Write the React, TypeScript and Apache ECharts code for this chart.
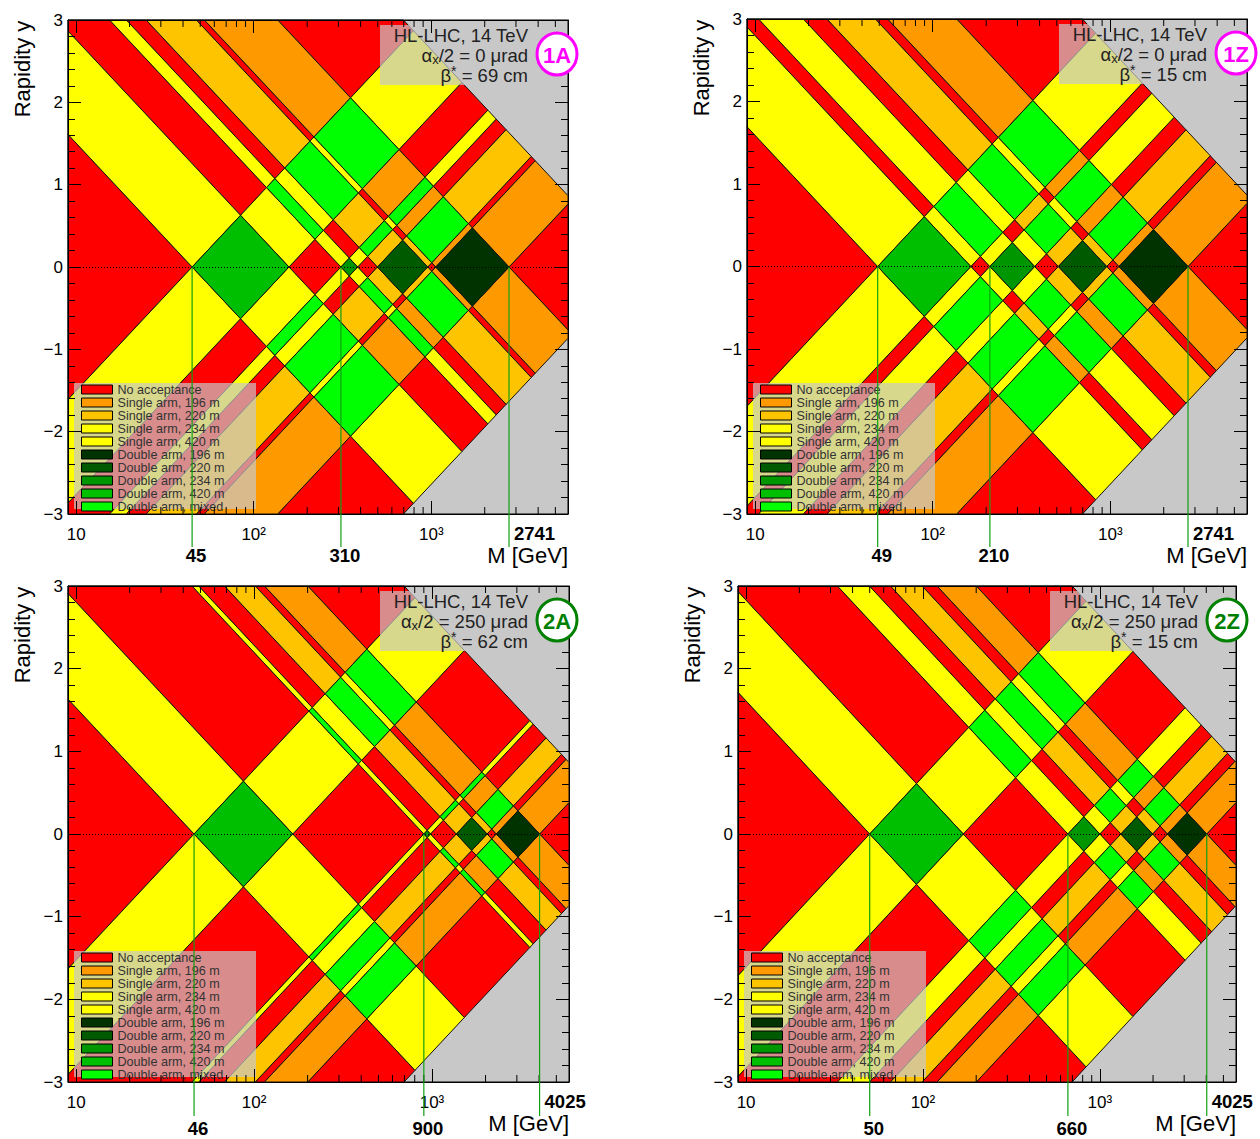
import React, { useEffect, useRef } from 'react';
import * as echarts from 'echarts';

// ---------------- data ----------------
const SQRT_S_GEV = 14000;
// acceptance bands along xi (same sequence for both arms), from low to high xi
const BAND_STATIONS = ['none', '420', 'none', '234', 'none', '220', 'none', '196', 'none'];
// band edges expressed as M (GeV) at y = 0, i.e. xi * sqrt(s)
const BAND_EDGES_1A = [45, 158, 310, 385, 498, 955, 1060, 2741];
const BAND_EDGES_1Z = [49, 164, 210, 375, 510, 955, 1120, 2741];
const BAND_EDGES_2A = [46, 165, 900, 980, 1370, 2040, 2300, 4025];
const BAND_EDGES_2Z = [50, 169, 660, 1000, 1316, 1987, 2415, 4025];
const MARKERS_1A = [45, 310, 2741];
const MARKERS_1Z = [49, 210, 2741];
const MARKERS_2A = [46, 900, 4025];
const MARKERS_2Z = [50, 660, 4025];
const PANEL_TAGS = ['1A', '1Z', '2A', '2Z'];
const HALF_CROSSING_URAD = [0, 0, 250, 250];
const BETA_STAR_CM = [69, 15, 62, 15];
const CATEGORY_NAMES = [
  'No acceptance',
  'Single arm, 196 m',
  'Single arm, 220 m',
  'Single arm, 234 m',
  'Single arm, 420 m',
  'Double arm, 196 m',
  'Double arm, 220 m',
  'Double arm, 234 m',
  'Double arm, 420 m',
  'Double arm, mixed',
];
const CATEGORY_COLORS = [
  '#ff0000', '#ff9900', '#ffc400', '#ffff00', '#ffff00',
  '#003300', '#005a00', '#009600', '#00bf00', '#00ff00',
];
const X_MAJOR_GEV = [10, 100, 1000];
const X_MINOR_GEV = [20, 30, 40, 50, 60, 70, 80, 90, 200, 300, 400, 500, 600, 700, 800, 900, 2000, 3000, 4000, 5000];
const Y_TICK_LABELS = ['\u22123', '\u22122', '\u22121', '0', '1', '2', '3'];
const M_MIN_GEV = 9.0;
const M_MAX_GEV = 5890;
const Y_MIN = -3;
const Y_MAX = 3;

// ---------------- layout ----------------
const LAYOUT = [
  { left: 68, top: 20, width: 500, height: 494, tagColor: '#ff00ff', lowDy: 41, lineDy: 33 },
  { left: 747, top: 19, width: 500, height: 495, tagColor: '#ff00ff', lowDy: 41, lineDy: 33 },
  { left: 68, top: 586, width: 501, height: 496, tagColor: '#008000', lowDy: 46, lineDy: 34 },
  { left: 738, top: 586, width: 498, height: 496, tagColor: '#008000', lowDy: 46, lineDy: 34 },
];
const FONT = '"Liberation Sans", Arial, Helvetica, sans-serif';
const PANEL_EDGES = [BAND_EDGES_1A, BAND_EDGES_1Z, BAND_EDGES_2A, BAND_EDGES_2Z];
const PANEL_MARKERS = [MARKERS_1A, MARKERS_1Z, MARKERS_2A, MARKERS_2Z];

const X_MIN = Math.log10(M_MIN_GEV);
const X_MAX = Math.log10(M_MAX_GEV);
const SINGLE_INDEX: Record<string, number> = { '196': 1, '220': 2, '234': 3, '420': 4 };
const DOUBLE_INDEX: Record<string, number> = { '196': 5, '220': 6, '234': 7, '420': 8 };

function categoryOf(s1: string, s2: string): number {
  if (s1 === 'none' && s2 === 'none') return 0;
  if (s1 === 'none') return SINGLE_INDEX[s2];
  if (s2 === 'none') return SINGLE_INDEX[s1];
  if (s1 === s2) return DOUBLE_INDEX[s1];
  return 9;
}

function buildCells(edges: number[]) {
  const logs = edges.map((e) => Math.log10(e));
  const lo = [-3, ...logs];
  const hi = [...logs, Math.log10(SQRT_S_GEV)];
  const byCat: number[][][] = CATEGORY_NAMES.map(() => []);
  for (let i = 0; i < BAND_STATIONS.length; i++) {
    for (let j = 0; j < BAND_STATIONS.length; j++) {
      const c = categoryOf(BAND_STATIONS[i], BAND_STATIONS[j]);
      byCat[c].push([lo[i], hi[i], lo[j], hi[j]]);
    }
  }
  return byCat;
}

type P = number[];
function clipPolygon(pts: P[]): P[] {
  const planes: [(p: P) => boolean, (a: P, b: P) => P][] = [
    [(p) => p[0] >= X_MIN, (a, b) => { const t = (X_MIN - a[0]) / (b[0] - a[0]); return [X_MIN, a[1] + t * (b[1] - a[1])]; }],
    [(p) => p[0] <= X_MAX, (a, b) => { const t = (X_MAX - a[0]) / (b[0] - a[0]); return [X_MAX, a[1] + t * (b[1] - a[1])]; }],
    [(p) => p[1] >= Y_MIN, (a, b) => { const t = (Y_MIN - a[1]) / (b[1] - a[1]); return [a[0] + t * (b[0] - a[0]), Y_MIN]; }],
    [(p) => p[1] <= Y_MAX, (a, b) => { const t = (Y_MAX - a[1]) / (b[1] - a[1]); return [a[0] + t * (b[0] - a[0]), Y_MAX]; }],
  ];
  let out = pts;
  for (const [inside, inter] of planes) {
    const input = out;
    out = [];
    if (!input.length) break;
    for (let k = 0; k < input.length; k++) {
      const cur = input[k];
      const prev = input[(k + input.length - 1) % input.length];
      const ci = inside(cur);
      const pi = inside(prev);
      if (ci) {
        if (!pi) out.push(inter(prev, cur));
        out.push(cur);
      } else if (pi) {
        out.push(inter(prev, cur));
      }
    }
  }
  return out;
}

function buildOption() {
  const grid: any[] = [];
  const xAxis: any[] = [];
  const yAxis: any[] = [];
  const series: any[] = [];
  const legend: any[] = [];
  const graphic: any[] = [];

  LAYOUT.forEach((L, p) => {
    grid.push({
      left: L.left, top: L.top, width: L.width, height: L.height,
      show: true, backgroundColor: '#c8c8c8', borderColor: '#000', borderWidth: 1,
    });
    const xBase = {
      gridIndex: p, type: 'value', min: X_MIN, max: X_MAX, z: 5,
      splitLine: { show: false },
      axisLine: { show: true, onZero: false, lineStyle: { color: '#000', width: 1 } },
      axisTick: { show: true, inside: true, length: 13, customValues: X_MAJOR_GEV.map((v) => Math.log10(v)), lineStyle: { color: '#000' } },
    };
    xAxis.push({
      ...xBase, position: 'bottom',
      axisLabel: {
        show: true, customValues: X_MAJOR_GEV.map((v) => Math.log10(v)), margin: 12,
        fontSize: 17, color: '#000', fontFamily: FONT,
        formatter: (v: number) => {
          const k = Math.round(v);
          return k === 1 ? '10' : k === 2 ? '10\u00b2' : '10\u00b3';
        },
      },
    });
    xAxis.push({ ...xBase, position: 'top', axisLabel: { show: false } });
    const yBase = {
      gridIndex: p, type: 'value', min: Y_MIN, max: Y_MAX, interval: 1, z: 5,
      splitLine: { show: false },
      axisLine: { show: true, onZero: false, lineStyle: { color: '#000', width: 1 } },
      axisTick: { show: true, inside: true, length: 13, lineStyle: { color: '#000' } },
      minorTick: { show: true, splitNumber: 5, length: 7, lineStyle: { color: '#000' } },
    };
    yAxis.push({
      ...yBase, position: 'left',
      axisLabel: {
        show: true, margin: 5, fontSize: 17, color: '#000', fontFamily: FONT,
        formatter: (v: number) => Y_TICK_LABELS[Math.round(v) + 3],
      },
    });
    yAxis.push({ ...yBase, position: 'right', axisLabel: { show: false } });

    const cells = buildCells(PANEL_EDGES[p]);
    cells.forEach((data, c) => {
      const color = CATEGORY_COLORS[c];
      series.push({
        name: CATEGORY_NAMES[c], type: 'custom', xAxisIndex: 2 * p, yAxisIndex: 2 * p,
        silent: true, z: 2, itemStyle: { color },
        data,
        renderItem: (_params: any, api: any) => {
          const a0 = api.value(0), a1 = api.value(1), b0 = api.value(2), b1 = api.value(3);
          const corners = [[a0, b0], [a1, b0], [a1, b1], [a0, b1]].map(([a, b]) => [(a + b) / 2, ((a - b) * Math.LN10) / 2]);
          const clipped = clipPolygon(corners);
          if (clipped.length < 3) return { type: 'group', children: [] };
          const points = clipped.map((pt) => api.coord(pt));
          return { type: 'polygon', shape: { points }, style: { fill: color, stroke: '#111', lineWidth: 1 } };
        },
      });
    });

    // minor x ticks (bottom and top) and dotted y = 0 line
    series.push({
      name: 'ticks' + p, type: 'custom', xAxisIndex: 2 * p, yAxisIndex: 2 * p, silent: true, z: 5,
      data: X_MINOR_GEV.map((v) => [Math.log10(v), 0]),
      renderItem: (_params: any, api: any) => {
        const v = api.value(0);
        const b = api.coord([v, Y_MIN]);
        const t = api.coord([v, Y_MAX]);
        return {
          type: 'group',
          children: [
            { type: 'line', shape: { x1: b[0], y1: b[1], x2: b[0], y2: b[1] - 7 }, style: { stroke: '#000', lineWidth: 1 } },
            { type: 'line', shape: { x1: t[0], y1: t[1], x2: t[0], y2: t[1] + 7 }, style: { stroke: '#000', lineWidth: 1 } },
          ],
        };
      },
      markLine: {
        silent: true, symbol: 'none', label: { show: false },
        lineStyle: { color: '#000', width: 1, type: [1, 2] },
        data: [{ yAxis: 0 }],
      },
    });

    // vertical markers
    const markers = PANEL_MARKERS[p];
    series.push({
      name: 'markers' + p, type: 'custom', xAxisIndex: 2 * p, yAxisIndex: 2 * p, silent: true, z: 6,
      data: markers.map((m, k) => [Math.log10(m), k === markers.length - 1 ? 1 : 0, m]),
      renderItem: (_params: any, api: any) => {
        const v = api.value(0);
        const upper = api.value(1) === 1;
        const m = api.value(2);
        const p0 = api.coord([v, 0]);
        const pb = api.coord([v, Y_MIN]);
        return {
          type: 'group',
          children: [
            { type: 'line', shape: { x1: p0[0], y1: p0[1], x2: p0[0], y2: pb[1] + L.lineDy }, style: { stroke: '#10a010', lineWidth: 1.2 } },
            {
              type: 'text',
              style: {
                text: String(m), x: upper ? p0[0] + 5 : p0[0] + 4, y: pb[1] + (upper ? 19 : L.lowDy),
                align: upper ? 'left' : 'center', verticalAlign: 'middle',
                fill: '#000', fontSize: 18.5, fontWeight: 'bold', fontFamily: FONT,
              },
            },
          ],
        };
      },
    });

    // legend
    legend.push({
      show: true, orient: 'vertical', left: L.left + 6, top: L.top + L.height - 131,
      padding: [0, 0, 0, 7], itemGap: 0, itemWidth: 31, itemHeight: 9, selectedMode: false, z: 4,
      data: CATEGORY_NAMES.map((n) => ({ name: n, icon: 'rect' })),
      itemStyle: { borderColor: '#000', borderWidth: 1 },
      textStyle: { fontSize: 12.6, lineHeight: 12.6, color: '#333', fontFamily: FONT },
    });

    // graphics: legend background, label box, tag, axis titles
    graphic.push({
      type: 'rect', z: 3, silent: true,
      shape: { x: L.left + 6, y: L.top + L.height - 131, width: 182, height: 126 },
      style: { fill: 'rgba(200,200,200,0.7)' },
    });
    graphic.push({
      type: 'rect', z: 3, silent: true,
      shape: { x: L.left + 312, y: L.top + 5, width: 152, height: 60 },
      style: { fill: 'rgba(200,200,200,0.7)' },
    });
    const tx = L.left + 460;
    graphic.push({
      type: 'text', z: 7, silent: true,
      style: { text: 'HL-LHC, 14 TeV', x: tx, y: L.top + 15, align: 'right', verticalAlign: 'middle', fill: '#222', fontSize: 18.5, fontFamily: FONT },
    });
    graphic.push({
      type: 'text', z: 7, silent: true,
      style: {
        text: `{t|\u03b1}{s|x}{t|/2 = ${HALF_CROSSING_URAD[p]} \u03bcrad}`,
        x: tx, y: L.top + 35, align: 'right', verticalAlign: 'middle', fill: '#222',
        fontSize: 18.5, fontFamily: FONT,
        rich: {
          t: { fontSize: 18.5, lineHeight: 22, fontFamily: FONT, fill: '#222' },
          s: { fontSize: 13, lineHeight: 12, verticalAlign: 'bottom', fontFamily: FONT, fill: '#222' },
        },
      },
    });
    graphic.push({
      type: 'text', z: 7, silent: true,
      style: {
        text: `{t|\u03b2}{s|*}{t| = ${BETA_STAR_CM[p]} cm}`,
        x: tx, y: L.top + 55, align: 'right', verticalAlign: 'middle', fill: '#222',
        fontSize: 18.5, fontFamily: FONT,
        rich: {
          t: { fontSize: 18.5, lineHeight: 22, fontFamily: FONT, fill: '#222' },
          s: { fontSize: 14, lineHeight: 14, verticalAlign: 'top', fontFamily: FONT, fill: '#222' },
        },
      },
    });
    graphic.push({
      type: 'ellipse', z: 7, silent: true,
      shape: { cx: L.left + 489, cy: L.top + 34, rx: 20, ry: 21 },
      style: { fill: '#fff', stroke: L.tagColor, lineWidth: 3 },
    });
    graphic.push({
      type: 'text', z: 8, silent: true,
      style: { text: PANEL_TAGS[p], x: L.left + 489, y: L.top + 35, align: 'center', verticalAlign: 'middle', fill: L.tagColor, fontSize: 22, fontWeight: 'bold', fontFamily: FONT },
    });
    graphic.push({
      type: 'text', z: 7, silent: true,
      x: L.left - 46, y: L.top + 49, rotation: Math.PI / 2,
      style: { text: 'Rapidity y', x: 0, y: 0, align: 'center', verticalAlign: 'middle', fill: '#000', fontSize: 22, fontFamily: FONT },
    });
    graphic.push({
      type: 'text', z: 7, silent: true,
      style: { text: 'M [GeV]', x: L.left + L.width, y: L.top + L.height + 41, align: 'right', verticalAlign: 'middle', fill: '#000', fontSize: 22, fontFamily: FONT },
    });
  });

  return {
    animation: false,
    backgroundColor: '#ffffff',
    grid, xAxis, yAxis, series, legend, graphic,
  };
}

export default function App() {
  const ref = useRef<HTMLDivElement>(null);
  useEffect(() => {
    const chart = echarts.init(ref.current as HTMLDivElement, null, { renderer: 'svg' });
    chart.setOption(buildOption() as any);
    return () => chart.dispose();
  }, []);
  return (
    <div
      ref={ref}
      style={{ position: 'absolute', left: 0, top: 0, width: 1260, height: 1139, background: '#fff' }}
    />
  );
}
